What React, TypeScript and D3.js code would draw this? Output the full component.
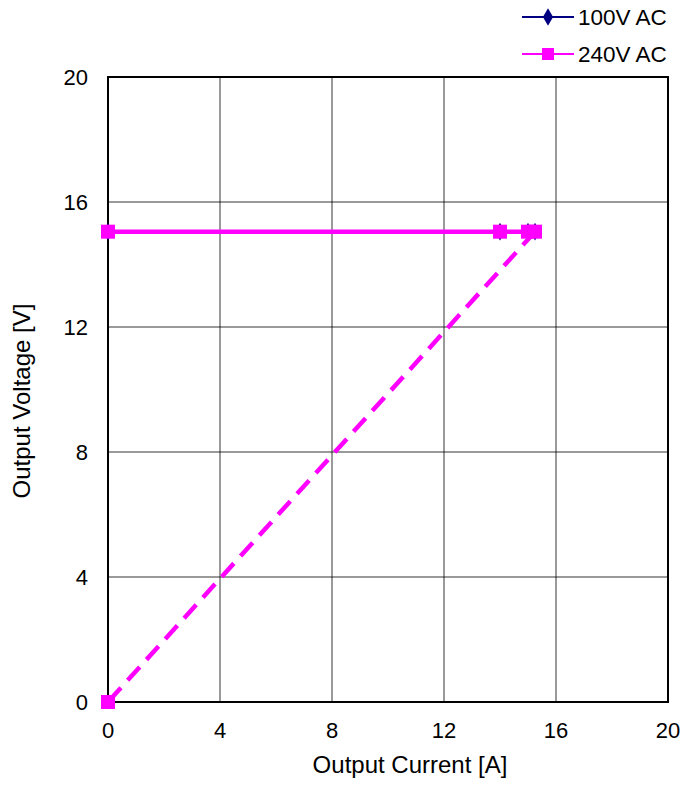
import React from "react";
import * as d3 from "d3";

const xTicks = [0, 4, 8, 12, 16, 20];
const yTicks = [0, 4, 8, 12, 16, 20];
const seriesNames = ["100V AC", "240V AC"];
const seriesColors = ["#000080", "#FF00FF"];
const currentA = [0, 14, 15, 15.25];
const voltage100 = [15.05, 15.05, 15.05, 15.05];
const voltage240 = [15.05, 15.05, 15.05, 15.05];
const shortCircuit = [0, 0];

export default function App() {
  const W = 684, H = 785;
  const left = 108, right = 668, top = 77, bottom = 702;
  const x = d3.scaleLinear().domain([0, 20]).range([left, right]);
  const y = d3.scaleLinear().domain([0, 20]).range([bottom, top]);
  const font = "Arial, 'Liberation Sans', sans-serif";
  const line = d3.line<[number, number]>().x(d => x(d[0])).y(d => y(d[1]));
  const pts100: [number, number][] = currentA.map((c, i) => [c, voltage100[i]]);
  const pts240: [number, number][] = currentA.map((c, i) => [c, voltage240[i]]);
  const last240 = pts240[pts240.length - 1];
  const dashPts: [number, number][] = [last240, [shortCircuit[0], shortCircuit[1]]];
  const ms = 14;
  return (
    <svg width={W} height={H} style={{ position: "absolute", left: 0, top: 0, background: "#fff" }}>
      {xTicks.map(t => (
        <line key={"gx" + t} x1={x(t)} x2={x(t)} y1={top} y2={bottom} stroke="#000" strokeWidth={0.8} />
      ))}
      {yTicks.map(t => (
        <line key={"gy" + t} x1={left} x2={right} y1={y(t)} y2={y(t)} stroke="#000" strokeWidth={0.8} />
      ))}
      <rect x={left} y={top} width={right - left} height={bottom - top} fill="none" stroke="#000" strokeWidth={2} />
      {xTicks.map(t => (
        <text key={"tx" + t} x={x(t)} y={738} textAnchor="middle" fontFamily={font} fontSize={22} fill="#000">{t}</text>
      ))}
      {yTicks.map(t => (
        <text key={"ty" + t} x={88} y={y(t) + 8} textAnchor="end" fontFamily={font} fontSize={22} fill="#000">{t}</text>
      ))}
      <text x={410} y={773} textAnchor="middle" fontFamily={font} fontSize={24}>Output Current [A]</text>
      <text transform={`translate(30, 401) rotate(-90)`} textAnchor="middle" fontFamily={font} fontSize={24}>Output Voltage [V]</text>

      {/* 100V AC series (hidden beneath 240V) */}
      <path d={line(pts100) || ""} fill="none" stroke={seriesColors[0]} strokeWidth={2} />
      {pts100.map((p, i) => (
        <path key={"d" + i} d={d3.symbol(d3.symbolDiamond, 90)() || ""} transform={`translate(${x(p[0])},${y(p[1])})`} fill={seriesColors[0]} />
      ))}

      {/* 240V AC series */}
      <path d={line(pts240) || ""} fill="none" stroke={seriesColors[1]} strokeWidth={4.5} />
      <path d={line(dashPts) || ""} fill="none" stroke={seriesColors[1]} strokeWidth={4.5} strokeDasharray="18 10" />
      {pts240.map((p, i) => (
        <rect key={"s" + i} x={x(p[0]) - ms / 2} y={y(p[1]) - ms / 2} width={ms} height={ms} fill={seriesColors[1]} />
      ))}
      <rect x={x(shortCircuit[0]) - ms / 2} y={y(shortCircuit[1]) - ms / 2} width={ms} height={ms} fill={seriesColors[1]} />

      {/* Legend */}
      <line x1={522} x2={574} y1={17} y2={17} stroke={seriesColors[0]} strokeWidth={2} />
      <path d={d3.symbol(d3.symbolDiamond, 90)() || ""} transform="translate(548,17)" fill={seriesColors[0]} />
      <text x={578} y={25} fontFamily={font} fontSize={22.5}>{seriesNames[0]}</text>
      <line x1={522} x2={574} y1={54} y2={54} stroke={seriesColors[1]} strokeWidth={2} />
      <rect x={548 - 6} y={54 - 6} width={12} height={12} fill={seriesColors[1]} />
      <text x={578} y={62} fontFamily={font} fontSize={22.5}>{seriesNames[1]}</text>
    </svg>
  );
}
